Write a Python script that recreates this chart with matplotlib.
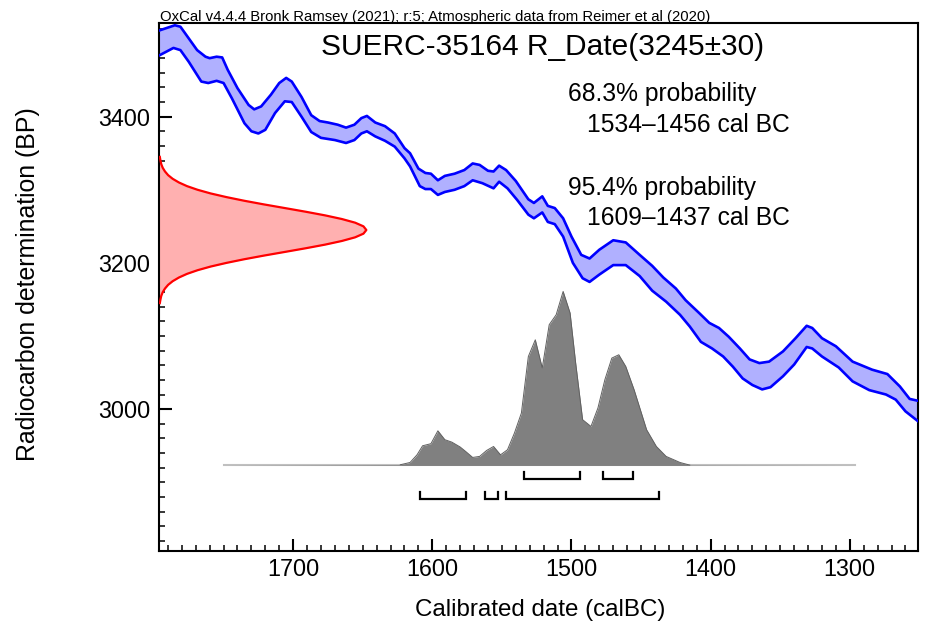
import numpy as np
import matplotlib
matplotlib.use("Agg")
import matplotlib.pyplot as plt
from matplotlib.ticker import MultipleLocator

plt.rcParams['font.family'] = ['Liberation Sans', 'DejaVu Sans']

# ---------------- data ----------------
title = "SUERC-35164 R_Date(3245\u00b130)"
header = "OxCal v4.4.4 Bronk Ramsey (2021); r:5; Atmospheric data from Reimer et al (2020)"
xlabel = "Calibrated date (calBC)"
ylabel = "Radiocarbon determination (BP)"
x_ticks = [1700, 1600, 1500, 1400, 1300]
y_ticks = [3000, 3200, 3400]

# calibration curve, upper edge (year BC, BP)
cal_up_year = [1796, 1785, 1781, 1775, 1769, 1763, 1760, 1755, 1751, 1747, 1740, 1732, 1728, 1723,
               1716, 1710, 1705, 1701, 1694, 1687, 1681, 1675, 1668, 1662, 1656, 1651, 1647, 1641,
               1634, 1627, 1620, 1616, 1610, 1605, 1601, 1596, 1591, 1584, 1577, 1571, 1566, 1560,
               1556, 1552, 1547, 1540, 1531, 1527, 1521, 1517, 1512, 1506, 1500, 1493, 1487, 1480,
               1470, 1461, 1451, 1442, 1434, 1425, 1418, 1408, 1401, 1394, 1387, 1379, 1372, 1365,
               1358, 1348, 1339, 1331, 1327, 1320, 1310, 1298, 1284, 1273, 1264, 1257, 1250]
cal_up_bp = [3518, 3525, 3523, 3507, 3491, 3482, 3480, 3482, 3481, 3464, 3439, 3416, 3410, 3414,
             3430, 3446, 3453, 3448, 3427, 3402, 3394, 3392, 3389, 3385, 3389, 3398, 3401, 3392,
             3387, 3377, 3357, 3350, 3329, 3323, 3322, 3313, 3319, 3322, 3327, 3336, 3334, 3326,
             3325, 3333, 3327, 3312, 3287, 3282, 3291, 3278, 3275, 3261, 3236, 3211, 3206, 3218,
             3231, 3228, 3211, 3196, 3180, 3165, 3149, 3131, 3118, 3111, 3099, 3083, 3068, 3063,
             3065, 3079, 3097, 3114, 3111, 3097, 3086, 3065, 3054, 3048, 3031, 3014, 3011]

# calibration curve, lower edge (year BC, BP)
cal_lo_year = [1796, 1786, 1781, 1775, 1766, 1761, 1755, 1750, 1744, 1735, 1730, 1725, 1720, 1713,
               1706, 1701, 1694, 1687, 1680, 1670, 1662, 1656, 1651, 1647, 1641, 1634, 1627, 1620,
               1616, 1609, 1605, 1601, 1596, 1591, 1584, 1577, 1571, 1564, 1556, 1552, 1546, 1539,
               1531, 1527, 1521, 1517, 1512, 1506, 1499, 1492, 1487, 1480, 1470, 1461, 1451, 1442,
               1432, 1422, 1415, 1407, 1399, 1391, 1384, 1377, 1370, 1363, 1357, 1348, 1340, 1331,
               1327, 1320, 1308, 1298, 1286, 1274, 1267, 1260, 1250]
cal_lo_bp = [3484, 3494, 3491, 3475, 3448, 3446, 3449, 3446, 3425, 3391, 3380, 3377, 3382, 3405,
             3421, 3420, 3400, 3379, 3371, 3368, 3364, 3368, 3377, 3380, 3373, 3367, 3359, 3343,
             3332, 3305, 3301, 3301, 3293, 3297, 3300, 3305, 3313, 3309, 3302, 3311, 3302, 3286,
             3266, 3261, 3269, 3256, 3253, 3236, 3200, 3179, 3174, 3184, 3197, 3197, 3182, 3162,
             3147, 3129, 3113, 3092, 3083, 3072, 3058, 3042, 3033, 3027, 3030, 3045, 3061, 3085,
             3083, 3072, 3057, 3038, 3026, 3020, 3013, 2997, 2982]

# radiocarbon date 3245±30 BP, relative density
c14_bp = [3145, 3150, 3155, 3160, 3165, 3170, 3175, 3180, 3185, 3190, 3195, 3200, 3205, 3210,
          3215, 3220, 3225, 3230, 3235, 3240, 3245, 3250, 3255, 3260, 3265, 3270, 3275, 3280,
          3285, 3290, 3295, 3300, 3305, 3310, 3315, 3320, 3325, 3330, 3335, 3340, 3345]
c14_dens = [0.004, 0.007, 0.011, 0.018, 0.029, 0.044, 0.066, 0.096, 0.135, 0.186, 0.249, 0.325,
            0.411, 0.506, 0.607, 0.707, 0.801, 0.882, 0.946, 0.986, 1.000, 0.986, 0.946, 0.882,
            0.801, 0.707, 0.607, 0.506, 0.411, 0.325, 0.249, 0.186, 0.135, 0.096, 0.066, 0.044,
            0.029, 0.018, 0.011, 0.007, 0.004]

# calibrated probability distribution (year BC, relative probability)
post_year = [1750, 1623, 1616, 1611, 1607, 1601, 1596, 1591, 1586, 1580, 1576, 1571, 1566, 1561,
             1556, 1551, 1546, 1541, 1536, 1531, 1526, 1521, 1516, 1511, 1506, 1501, 1497, 1492,
             1486, 1481, 1476, 1471, 1466, 1461, 1455, 1446, 1439, 1432, 1422, 1415, 1296]
post_prob = [0.0, 0.004, 0.017, 0.061, 0.113, 0.125, 0.199, 0.148, 0.134, 0.106, 0.080, 0.046,
             0.052, 0.086, 0.109, 0.061, 0.090, 0.186, 0.301, 0.626, 0.722, 0.560, 0.809, 0.866,
             1.000, 0.876, 0.589, 0.263, 0.224, 0.330, 0.493, 0.617, 0.636, 0.569, 0.435, 0.205,
             0.109, 0.052, 0.017, 0.002, 0.0]

# highest probability density ranges
ranges_68 = [(1534, 1494), (1477, 1456)]
ranges_95 = [(1609, 1576), (1562, 1553), (1547, 1437)]
text_68 = ["68.3% probability", "1534\u20131456 cal BC"]
text_95 = ["95.4% probability", "1609\u20131437 cal BC"]

# ---------------- layout ----------------
W, H = 926, 631
fig = plt.figure(figsize=(W / 100, H / 100), dpi=100)
ax_l, ax_r, ax_t, ax_b = 159, 918, 22.7, 551
ax = fig.add_axes([ax_l / W, 1 - ax_b / H, (ax_r - ax_l) / W, (ax_b - ax_t) / H])

x_left, x_right = 1796.4, 1251
y_bot, y_top = 2806, 3528.5
ax.set_xlim(x_left, x_right)
ax.set_ylim(y_bot, y_top)

# calibration curve band
poly_x = list(cal_up_year) + list(cal_lo_year[::-1])
poly_y = list(cal_up_bp) + list(cal_lo_bp[::-1])
ax.fill(poly_x, poly_y, color='#b0b0ff', lw=0, zorder=2)
ax.plot(cal_up_year, cal_up_bp, color='#0000ff', lw=1.9, zorder=3, solid_joinstyle='round')
ax.plot(cal_lo_year, cal_lo_bp, color='#0000ff', lw=1.9, zorder=3, solid_joinstyle='round')

# radiocarbon date distribution along y axis
c14_scale = 149.0  # years of horizontal extent for peak
c14_x = x_left - np.array(c14_dens) * c14_scale
ax.fill_betweenx(c14_bp, x_left, c14_x, color='#ffb0b0', lw=0, zorder=2)
ax.plot(c14_x, c14_bp, color='#ff0000', lw=1.6, zorder=3, solid_joinstyle='round')

# calibrated distribution
base_bp = 2923
post_scale = 238
post_y = base_bp + np.array(post_prob) * post_scale
ax.plot([post_year[0], post_year[-1]], [base_bp, base_bp], color='#c0c0c0', lw=1.5, zorder=2)
ax.fill_between(post_year, base_bp, post_y, color='#808080', lw=0, zorder=3)
ax.plot(post_year[1:-1], post_y[1:-1], color='#606060', lw=0.7, zorder=4)

# range brackets
def bracket(rngs, yb, h=9.5):
    for a, b in rngs:
        ax.plot([a, a, b, b], [yb + h, yb, yb, yb + h], color='black', lw=1.6,
                solid_joinstyle='miter', zorder=4)

bracket(ranges_68, 2904.7)
bracket(ranges_95, 2877.4)

# axes styling
ax.xaxis.set_major_locator(MultipleLocator(100))
ax.xaxis.set_minor_locator(MultipleLocator(10))
ax.yaxis.set_major_locator(MultipleLocator(200))
ax.yaxis.set_minor_locator(MultipleLocator(20))
ax.set_xticks(x_ticks)
ax.set_yticks(y_ticks)
ax.tick_params(which='major', direction='in', length=9, width=1.5, labelsize=16.8,
               top=False, right=False, pad=6)
ax.tick_params(which='minor', direction='in', length=4.5, width=1.1, top=False, right=False)
ax.tick_params(axis='x', which='major', pad=5)
for s in ax.spines.values():
    s.set_linewidth(1.5)

fig.text(540 / W, 1 - 610 / H, xlabel, ha='center', va='center', fontsize=17.4)
fig.text(28 / W, 1 - 284 / H, ylabel, ha='center', va='center', rotation=90, fontsize=17.9)
fig.text(160 / W, 1 - 20.5 / H, header, ha='left', va='baseline', fontsize=10.7)
fig.text(543 / W, 1 - 47 / H, title, ha='center', va='center', fontsize=21.5)
fig.text(568 / W, 1 - 94 / H, text_68[0], ha='left', va='center', fontsize=17.7)
fig.text(587 / W, 1 - 125 / H, text_68[1], ha='left', va='center', fontsize=17.7)
fig.text(568 / W, 1 - 188 / H, text_95[0], ha='left', va='center', fontsize=17.7)
fig.text(587 / W, 1 - 218 / H, text_95[1], ha='left', va='center', fontsize=17.7)

fig.savefig("out.png", dpi=100)
